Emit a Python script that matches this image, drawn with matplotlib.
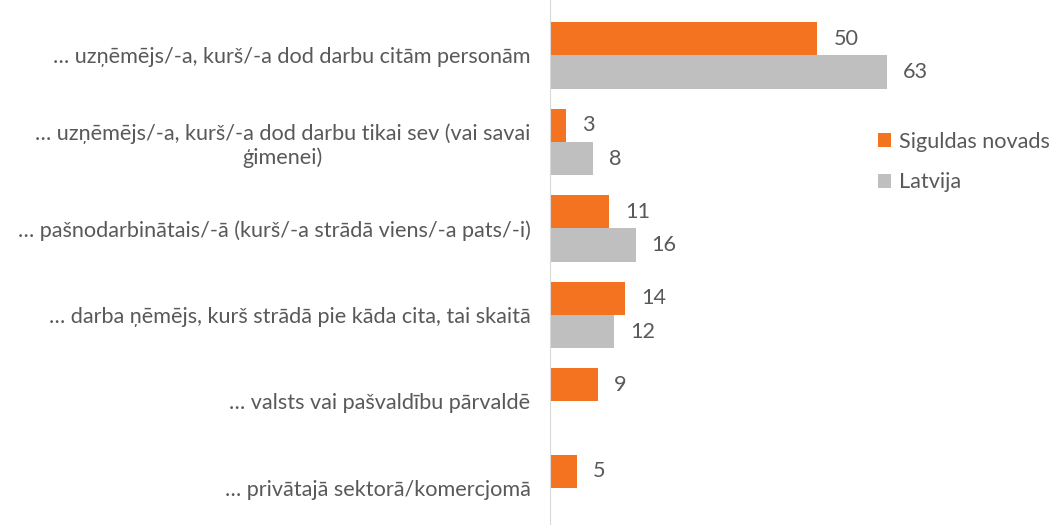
import matplotlib.pyplot as plt
import numpy as np

categories = [
    "… uzņēmējs/-a, kurš/-a dod darbu citām personām",
    "… uzņēmējs/-a, kurš/-a dod darbu tikai sev (vai savai\nģimenei)",
    "… pašnodarbinātais/-ā (kurš/-a strādā viens/-a pats/-i)",
    "… darba ņēmējs, kurš strādā pie kāda cita, tai skaitā",
    "… valsts vai pašvaldību pārvaldē",
    "… privātajā sektorā/komercjomā",
]
sigulda = [50, 3, 11, 14, 9, 5]
latvija = [63, 8, 16, 12, np.nan, np.nan]

plt.rcParams["font.family"] = ["Lato", "DejaVu Sans"]
text_color = "#595959"
orange = "#F37321"
gray = "#BFBFBF"
fs = 15.6

fig = plt.figure(figsize=(10.5, 5.25), dpi=100)
ax = fig.add_axes([0.5238, -0.01, 0.45, 1.01])

y = np.arange(len(categories))
h = 0.385
ax.barh(y - h / 2, sigulda, height=h, color=orange, label="Siguldas novads")
ax.barh(y + h / 2, latvija, height=h, color=gray, label="Latvija")

for yi, v in zip(y, sigulda):
    ax.text(v + 3.0, yi - h / 2, f"{v:g}", va="center", ha="left", fontsize=fs, color=text_color)
for yi, v in zip(y, latvija):
    if not np.isnan(v):
        ax.text(v + 3.0, yi + h / 2, f"{v:g}", va="center", ha="left", fontsize=fs, color=text_color)

ax.set_ylim(len(categories) - 0.5 - 0.01, -0.5 - 0.14)
ax.set_xlim(0, 0.45 * 1050 / 5.35)
ax.set_yticks(y)
ax.set_yticklabels(categories, fontsize=fs, color=text_color)
for lbl in ax.get_yticklabels():
    lbl.set_multialignment("center")
ax.tick_params(axis="y", length=0, pad=14)
ax.set_xticks([])
for s in ["top", "right", "bottom"]:
    ax.spines[s].set_visible(False)
ax.spines["left"].set_color("#D9D9D9")

leg = ax.legend(loc="upper left", bbox_to_anchor=(0.652, 0.788), frameon=False,
                fontsize=fs, handlelength=0.62, handleheight=0.62,
                handletextpad=0.35, labelspacing=0.95, labelcolor=text_color)

fig.savefig("out.png", dpi=100)
